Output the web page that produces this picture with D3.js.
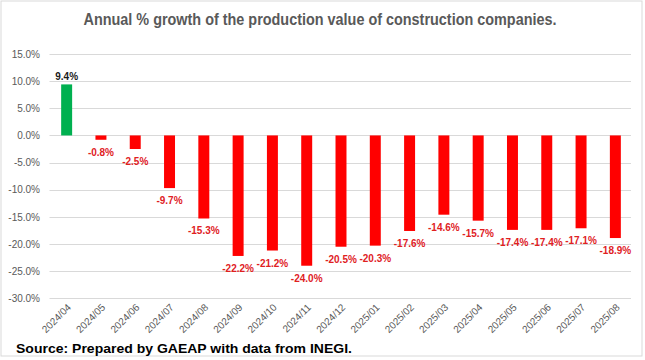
<!DOCTYPE html>
<html><head><meta charset="utf-8">
<script src="https://cdn.jsdelivr.net/npm/d3@7"></script>
<style>body{margin:0;background:#fff}svg{display:block}</style>
</head><body>
<svg id="c" width="645" height="360"></svg>
<script>
const categories = ["2024/04","2024/05","2024/06","2024/07","2024/08","2024/09","2024/10","2024/11","2024/12","2025/01","2025/02","2025/03","2025/04","2025/05","2025/06","2025/07","2025/08"];
const values = [9.4,-0.8,-2.5,-9.7,-15.3,-22.2,-21.2,-24.0,-20.5,-20.3,-17.6,-14.6,-15.7,-17.4,-17.4,-17.1,-18.9];
const yTicks = [15,10,5,0,-5,-10,-15,-20,-25,-30];
const title = "Annual % growth of the production value of construction companies.";
const source = "Source: Prepared by GAEAP with data from INEGI.";

const pct = d => d.toFixed(1) + "%";
const svg = d3.select("#c");
svg.append("rect").attr("x",1).attr("y",1).attr("width",641).attr("height",355)
  .attr("fill","#fff").attr("stroke","#d9d9d9");

const x = d3.scaleBand().domain(categories).range([49.5,632.5]).paddingInner(0.68).paddingOuter(0.34);
const y = d3.scaleLinear().domain([-30,15]).range([298.3,54]);

// gridlines
svg.append("g").selectAll("line").data(yTicks).join("line")
  .attr("x1",49.5).attr("x2",631).attr("y1",d=>Math.round(y(d))+0.5).attr("y2",d=>Math.round(y(d))+0.5)
  .attr("stroke","#d9d9d9").attr("stroke-width",1);

// y axis
const yAxis = d3.axisLeft(y).tickValues(yTicks).tickSize(0).tickPadding(0).tickFormat(pct);
const gy = svg.append("g").attr("transform","translate(40,0)").call(yAxis);
gy.select(".domain").remove();
gy.selectAll("text").attr("fill","#595959").attr("font-family","Liberation Sans, Arial, sans-serif").attr("font-size","10px");

// bars
svg.append("g").selectAll("rect").data(values).join("rect")
  .attr("x",(d,i)=>x(categories[i]))
  .attr("width",x.bandwidth())
  .attr("y",d=>y(Math.max(0,d)))
  .attr("height",d=>Math.abs(y(d)-y(0)))
  .attr("fill",d=>d>=0?"#00B050":"#FF0000");

// data labels
svg.append("g").selectAll("text").data(values).join("text")
  .attr("x",(d,i)=>x(categories[i])+x.bandwidth()/2)
  .attr("y",d=>d>=0?y(d)-4.5:y(d)+16)
  .attr("text-anchor","middle")
  .attr("font-family","Liberation Sans, Arial, sans-serif")
  .attr("font-weight","bold").attr("font-size","10px")
  .attr("fill",d=>d>=0?"#1a1a1a":"#E0211F")
  .text(pct);

// x axis labels
const xAxis = d3.axisBottom(x).tickSize(0).tickPadding(0);
const gx = svg.append("g").attr("transform","translate(0,303)").call(xAxis);
gx.select(".domain").remove();
gx.selectAll("text")
  .attr("text-anchor","end").attr("dy","0").attr("y",0)
  .attr("transform","translate(5,5) rotate(-45)")
  .attr("fill","#595959").attr("font-family","Liberation Sans, Arial, sans-serif").attr("font-size","10px");

// title
svg.append("text").attr("x",320).attr("y",25).attr("text-anchor","middle")
  .attr("font-family","Liberation Sans, Arial, sans-serif").attr("font-size","16px").attr("font-weight","bold")
  .attr("fill","#595959").attr("textLength",473).attr("lengthAdjust","spacingAndGlyphs")
  .text(title);

// source
svg.append("text").attr("x",16).attr("y",353)
  .attr("font-family","Liberation Sans, Arial, sans-serif").attr("font-weight","bold").attr("font-size","12.5px")
  .attr("fill","#000").attr("textLength",336).attr("lengthAdjust","spacingAndGlyphs")
  .text(source);
</script>
</body></html>
